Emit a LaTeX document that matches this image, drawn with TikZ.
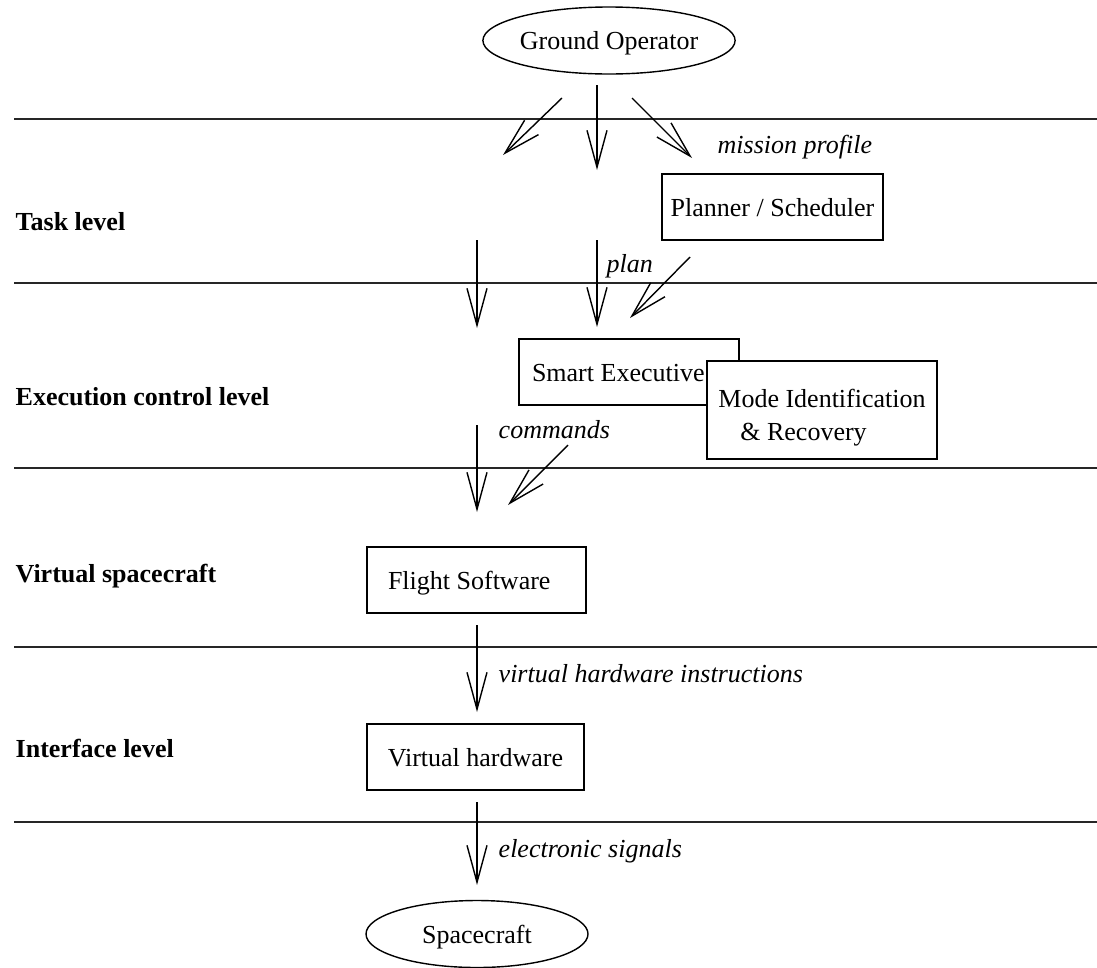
\documentclass[tikz,border=0pt]{standalone}
\usepackage{fontspec}
\setmainfont{Liberation Serif}
\usetikzlibrary{arrows.meta,shapes.geometric}

\begin{document}
\begin{tikzpicture}[x=1pt, y=-1pt, line width=1.4pt,
  txt/.style={font=\fontsize{26}{33}\selectfont},
  arr/.style={-{Straight Barb[length=37pt,width=20pt,line width=1.4pt]}},
  sep/.style={line width=1.6pt, draw=black!85},
  box/.style={txt, draw, fill=white, inner sep=0pt, minimum height=66pt,
              text height=18pt, text depth=0pt},
  oval/.style={txt, draw, ellipse, inner sep=0pt, minimum width=222pt, minimum height=67pt,
               text height=18pt, text depth=0pt},
  note/.style={txt, font=\fontsize{26}{33}\selectfont\itshape, anchor=base west, inner sep=0pt},
  level/.style={txt, font=\fontsize{26}{33}\selectfont\bfseries, anchor=base west, inner sep=0pt}]

% canvas
\fill[white] (0,0) rectangle (1097,967);
\useasboundingbox (0,0) rectangle (1097,967);

% level separators
\foreach \yy in {119,283,468,647,822}
  \draw[sep] (14,\yy) -- (1097,\yy);

% level names
\node[level] (lv1) at (15,230) {Task level};
\node[level] (lv2) at (15,405) {Execution control level};
\node[level] (lv3) at (15,582) {Virtual spacecraft};
\node[level] (lv4) at (15,757) {Interface level};

% actors
\node[oval] (ground) at (609,40.5) {Ground Operator};
\node[oval] (craft) at (477,934) {Spacecraft};

% components
\node[box, minimum width=221pt] (planner) at (772.5,207) {Planner / Scheduler};
\node[box, minimum width=220pt, text width=194pt, inner xsep=13pt, align=flush left]
  (exec) at (629,372) {Smart Executive};
\node[txt, draw, fill=white, inner xsep=0pt, inner ysep=0pt, minimum width=230pt, align=flush left]
  (mir) at (822,410)
  {\rule{0pt}{46pt}Mode Identification\\\rule[-19pt]{0pt}{19pt}\hspace*{22pt}\& Recovery};
\node[box, minimum width=219pt, text width=177pt, inner xsep=21pt, align=flush left]
  (fsw) at (476.5,580) {Flight Software};
\node[box, minimum width=217pt] (vhw) at (475.5,757) {Virtual hardware};

% connector ends
\coordinate (g1s) at (562,98);   \coordinate (g1e) at (503,155);
\coordinate (g2s) at (597,85);   \coordinate (g2e) at (597,170);
\coordinate (g3s) at (632,98);   \coordinate (g3e) at (692,158);
\coordinate (t1s) at (477,240);  \coordinate (t1e) at (477,328);
\coordinate (t2s) at (597,240);  \coordinate (t2e) at (597,327);
\coordinate (p1s) at (690,257);  \coordinate (p1e) at (630,318);
\coordinate (e1s) at (477,425);  \coordinate (e1e) at (477,512);
\coordinate (e2s) at (568,445);  \coordinate (e2e) at (508,505);
\coordinate (f1s) at (477,625);  \coordinate (f1e) at (477,712);
\coordinate (v1s) at (477,802);  \coordinate (v1e) at (477,885);

% connectors
\draw[arr] (g1s) -- (g1e);
\draw[arr] (g2s) -- (g2e);
\draw[arr] (g3s) -- (g3e);
\draw[arr] (t1s) -- (t1e);
\draw[arr] (t2s) -- (t2e);
\draw[arr] (p1s) -- (p1e);
\draw[arr] (e1s) -- (e1e);
\draw[arr] (e2s) -- (e2e);
\draw[arr] (f1s) -- (f1e);
\draw[arr] (v1s) -- (v1e);

% flow labels
\node[note] (n1) at (717,153) {mission profile};
\node[note] (n2) at (606,272) {plan};
\node[note] (n3) at (498,438) {commands};
\node[note] (n4) at (498,682) {virtual hardware instructions};
\node[note] (n5) at (498,857) {electronic signals};
\end{tikzpicture}
\end{document}
